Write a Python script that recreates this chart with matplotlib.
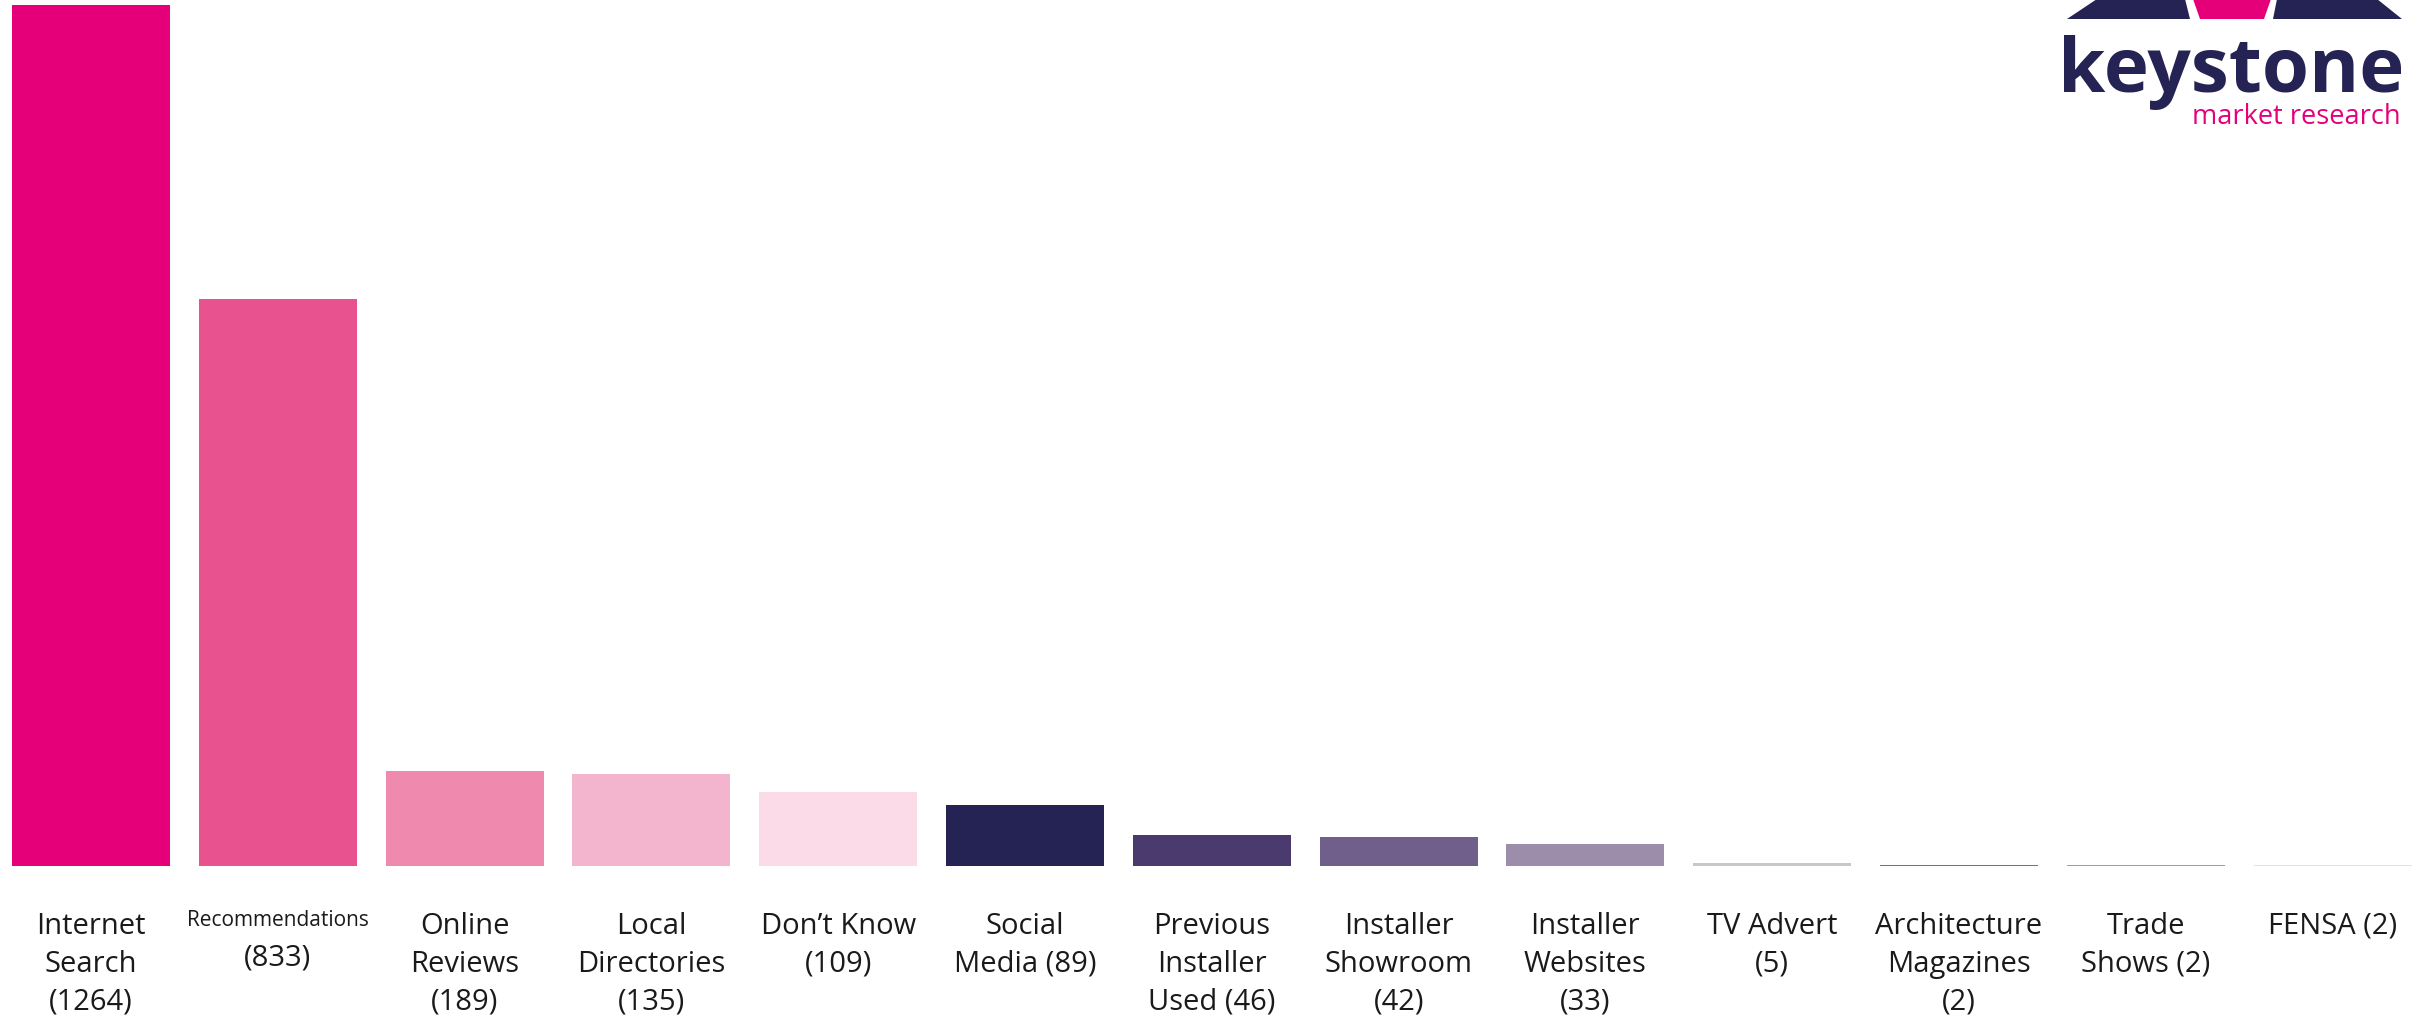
#Importing numpy and pyplot
import numpy as np
import matplotlib.pyplot as plt
from matplotlib.patches import Polygon
import matplotlib.transforms as transforms

plt.rcParams['font.family'] = ['Open Sans', 'DejaVu Sans']

#data
categories = ["Internet\nSearch", "Recommendations", "Online\nReviews", "Local\nDirectories",
              "Don\u2019t Know", "Social\nMedia", "Previous\nInstaller\nUsed", "Installer\nShowroom",
              "Installer\nWebsites", "TV Advert", "Architecture\nMagazines", "Trade\nShows", "FENSA"]
counts = [1264, 833, 189, 135, 109, 89, 46, 42, 33, 5, 2, 2, 2] #numbers in the labels
bar_heights = [1264, 833, 140, 135, 109, 89, 46, 42, 33, 5, 2, 2, 2] #heights as drawn
#how the count sits in the label: new line or same line
count_inline = [False, False, False, False, False, True, True, False, False, False, False, True, True]

colors = ['#E5007A', '#E8528F', '#EF89AE', '#F3B5CE', '#FADBE7', '#252254', '#4A3A6E',
          '#6F5F8A', '#9C8DAA', '#C8C8C8', '#6E7676', '#9AA0A0', '#E2E2E2']

W, H = 2427, 1020
fig = plt.figure(figsize=(W/100, H/100), dpi=100)
ax = fig.add_axes([0, 0.15, 1, 0.85])

x = np.arange(len(categories))
ax.bar(x, bar_heights, width=0.846, color=colors, linewidth=0)
ax.set_xlim(-0.487, 12.505)
ax.set_ylim(0, max(bar_heights)*1.007)
ax.axis('off')

#labels under the bars
trans = transforms.blended_transform_factory(ax.transData, fig.transFigure)
for i in range(len(categories)):
    if categories[i] == "Recommendations":
        ax.text(x[i], 1-921/H, categories[i], transform=trans, ha='center', va='center',
                fontsize=15, color='#1a1a1a')
        ax.text(x[i], 1-958/H, "(%d)" % counts[i], transform=trans, ha='center', va='center',
                fontsize=21, color='#1a1a1a')
        continue
    if count_inline[i]:
        lab = categories[i] + " (%d)" % counts[i]
    else:
        lab = categories[i] + "\n(%d)" % counts[i]
    ax.text(x[i], 1-912/H, lab, transform=trans, ha='center', va='top', fontsize=21,
            linespacing=1.4, color='#1a1a1a', multialignment='center')

#logo in the top right corner
def fpoly(pts, col):
    p = Polygon([(px/W, 1-py/H) for px, py in pts], closed=True, color=col,
                transform=fig.transFigure, linewidth=0)
    fig.add_artist(p)

fpoly([(2097, 0), (2185, 0), (2190, 20), (2067, 20)], '#252254')
fpoly([(2193, 0), (2271, 0), (2264, 20), (2200, 20)], '#E5007A')
fpoly([(2277, 0), (2377, 0), (2402, 20), (2273, 20)], '#252254')
fig.text(2404/W, 1-92/H, "keystone", ha='right', va='baseline', fontsize=55,
         fontweight='bold', color='#252254')
fig.text(2401/W, 1-124/H, "market research", ha='right', va='baseline', fontsize=19.5,
         color='#E5007A')

plt.savefig('out.png', dpi=100)
